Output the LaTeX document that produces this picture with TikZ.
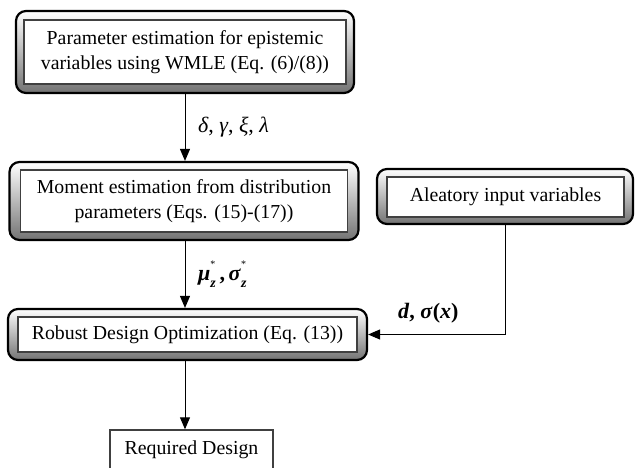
\documentclass[tikz,border=0pt]{standalone}
\usepackage{fontspec}
\setmainfont{Liberation Serif}
\usetikzlibrary{arrows.meta}

\newcommand{\bi}[1]{\textbf{\textit{#1}}}
\newcommand{\starz}{\makebox[0pt][l]{\raisebox{1.3ex}{\tiny *}}\raisebox{-0.7ex}{\scriptsize\bfseries\itshape z}}

\tikzset{
  outframe/.style={draw=black, line width=1.1pt, rounded corners=5pt,
    top color=white, bottom color=black!55, inner sep=0pt},
  inbox/.style={draw=black!75, line width=0.7pt, fill=white, align=center, inner sep=0pt},
  flow/.style={-{Triangle[length=6pt,width=5pt]}, line width=0.5pt},
  flowlabel/.style={font=\fontsize{11}{13}\selectfont},
}

\begin{document}
\begin{tikzpicture}[x=0.5pt, y=-0.5pt, font=\fontsize{9.9}{12.5}\selectfont]
            \useasboundingbox (0,0) rectangle (635,467);

            % outer frames first, boxes on top
            \node[outframe, minimum width=169pt, minimum height=41pt] (paramF) at (185,52) {};
            \node[outframe, minimum width=174.5pt, minimum height=39pt] (momentF) at (184,201) {};
            \node[outframe, minimum width=179.5pt, minimum height=25.5pt] (robustF) at (187.5,334.5) {};
            \node[outframe, minimum width=128pt, minimum height=27.5pt] (aleaF) at (505,196.5) {};

            \node[inbox, minimum width=161pt, minimum height=32pt] (param) at (185,52)
                {Parameter estimation for epistemic\\variables using WMLE (Eq. (6)/(8))};
            \node[inbox, minimum width=163.5pt, minimum height=31pt] (moment) at (184,201)
                {Moment estimation from distribution\\parameters (Eqs. (15)-(17))};
            \node[inbox, minimum width=169.5pt, minimum height=17.5pt] (robust) at (187.5,334.5)
                {Robust Design Optimization (Eq. (13))};
            \node[inbox, minimum width=118.5pt, minimum height=20pt] (alea) at (505.5,197)
                {Aleatory input variables};
            \node[inbox, minimum width=81.5pt, minimum height=25pt, text depth=7pt] (req) at (191.5,455)
                {Required Design};

            \draw[flow] (185,93) coordinate (P1) -- (P1 |- momentF.north)
                node[flowlabel, midway, right=3pt] {\textit{δ}, \textit{γ}, \textit{ξ}, \textit{λ}};
            \draw[flow] (185,240) coordinate (P2) -- (P2 |- robustF.north)
                node[flowlabel, midway, right=3pt] {\bi{μ}\starz\,\textbf{,}\,\bi{σ}\starz};
            \draw[flow] (185,360) coordinate (P3) -- (P3 |- req.north);
            \draw[flow] (aleaF.south) |- (robustF.east)
                node[flowlabel, pos=0.78, above=2pt] {\bi{d}\textbf{,} \bi{σ}\textbf{(}\bi{x}\textbf{)}};
        \end{tikzpicture}
\end{document}
